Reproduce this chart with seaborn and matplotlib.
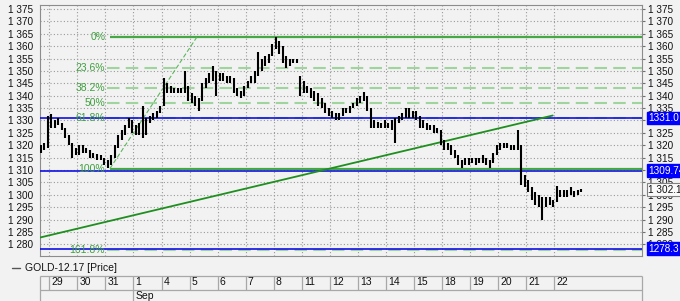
import numpy as np
import pandas as pd
import matplotlib
matplotlib.use("Agg")
import matplotlib.pyplot as plt
import matplotlib.transforms as mtransforms
from matplotlib.lines import Line2D
from matplotlib.ticker import MultipleLocator, FuncFormatter, FixedLocator
import seaborn as sns

# ---------------- data ----------------
day_labels = ["29", "30", "31", "1", "4", "5", "6", "7", "8", "11", "12",
              "13", "14", "15", "18", "19", "20", "21", "22"]
month_label = "Sep"
month_start_index = 3

bars_per_day = 8
first_bar_day = -0.3

bar_high = [
    1320, 1321, 1332, 1332.5, 1330, 1331, 1329, 1327, 1324, 1321,
    1319, 1320, 1320, 1319, 1318, 1317, 1316.5, 1316, 1315, 1314,
    1316, 1320, 1324, 1326, 1328, 1331, 1330, 1328, 1329, 1336,
    1331, 1332, 1333, 1334, 1336, 1347, 1345, 1344, 1343, 1343,
    1343, 1350, 1344, 1341, 1340, 1339, 1345, 1347, 1349, 1352,
    1350, 1349, 1349, 1348, 1348, 1347, 1343, 1342, 1344, 1346,
    1348, 1350, 1357.5, 1355, 1356, 1357, 1361, 1363.5, 1362, 1360,
    1356, 1355, 1355, 1355, 1348, 1346, 1344, 1343, 1342, 1341,
    1339, 1337, 1335, 1334, 1333, 1333, 1335, 1335, 1336, 1337,
    1339, 1340, 1341.5, 1340, 1335, 1330, 1329.5, 1329, 1330, 1329,
    1330, 1331, 1332, 1333, 1335, 1335, 1334, 1334, 1332, 1330,
    1329, 1328, 1328, 1327, 1326, 1322, 1321, 1320, 1318, 1316,
    1314, 1315, 1315, 1315, 1315, 1315, 1316, 1315, 1314, 1317,
    1320, 1321, 1321, 1321, 1320, 1320, 1326, 1320, 1308, 1306,
    1303, 1301, 1300, 1299, 1299, 1299, 1298, 1303.5, 1302, 1302,
    1302, 1303, 1301.5, 1302, 1302.5,
]
bar_low = [
    1317, 1318, 1319, 1327, 1327, 1328, 1326, 1323, 1320, 1315,
    1316, 1316, 1317, 1317, 1315, 1315, 1314, 1314, 1312, 1311,
    1312, 1315, 1319, 1322, 1324, 1327, 1325, 1324, 1324, 1323,
    1324, 1329, 1330, 1331, 1333, 1336, 1341, 1341, 1341, 1341,
    1341, 1341, 1338, 1337, 1336, 1334, 1338, 1343, 1345, 1346,
    1340, 1346, 1346, 1345, 1345, 1341, 1340, 1339, 1340, 1343,
    1345, 1345, 1348, 1350, 1352, 1353, 1356, 1359, 1357, 1353,
    1351, 1352, 1353, 1353, 1340, 1341, 1341, 1339, 1338, 1336,
    1335, 1333, 1332, 1331, 1330, 1330, 1332, 1333, 1333, 1335,
    1336, 1337, 1338, 1334, 1327, 1327, 1327, 1327, 1327, 1327,
    1326, 1321, 1329, 1330, 1331, 1331, 1331, 1330, 1327, 1327,
    1326, 1326, 1325, 1325, 1320, 1318, 1318, 1316, 1315, 1312,
    1311, 1312, 1312, 1313, 1312, 1313, 1313, 1312, 1311, 1313,
    1316, 1318, 1319, 1319, 1318, 1318, 1318, 1304, 1303, 1301,
    1298, 1296, 1295, 1290, 1295, 1296, 1295, 1297, 1299, 1299,
    1299, 1300, 1299, 1300, 1301,
]

last_price = 1302.1
last_price_label = "1 302.1"
blue_levels = [1331.0, 1309.74, 1278.3]
blue_labels = ["1331.0", "1309.74", "1278.3"]

fib_high = 1363.5
fib_low = 1310.6
fib_ratios = [0.0, 0.236, 0.382, 0.5, 0.618, 1.0, 1.618]
fib_labels = ["0%", "23.6%", "38.2%", "50%", "61.8%", "100%", "161.8%"]
fib_solid = [True, False, False, False, False, True, False]
fib_start_day = 2.16
fib_end_day = 5.25

trend_days = [-0.35, 17.94]
trend_values = [1282.7, 1332.0]

legend_text = "GOLD-12.17 [Price]"

# ---------------- style ----------------
sns.set_style("white")
plt.rcParams["font.family"] = ["Liberation Sans", "DejaVu Sans"]
plt.rcParams["font.size"] = 7.2

BG = "#f2f2f2"
GRID = "#9a9a9a"
FRAME = "#8c8c8c"
BLUE = "#1010e6"
GREEN = "#45a845"
LGREEN = "#9fd49f"
DGREEN = "#1f8f1f"
FIBTXT = "#3f9f3f"

W, H = 680, 301
fig = plt.figure(figsize=(W / 100, H / 100), dpi=100, facecolor=BG)
L, R, T, B = 39.5, 641.7, 4.5, 256.0
ax = fig.add_axes([L / W, 1 - B / H, (R - L) / W, (B - T) / H])
ax.set_facecolor(BG)

x_min, x_max = -0.349, 21.11
y_min, y_max = 1275.3, 1376.8

# price bars
n = len(bar_high)
df = pd.DataFrame({
    "day": first_bar_day + np.arange(n) / bars_per_day,
    "high": bar_high,
    "low": bar_low,
})
ax.vlines(df["day"], df["low"], df["high"], color="black", lw=1.5, zorder=4)

# fibonacci levels
fib_span = fib_high - fib_low
for r, lab, solid in zip(fib_ratios, fib_labels, fib_solid):
    lvl = fib_high - r * fib_span
    if solid:
        ax.hlines(lvl, fib_start_day, x_max, color=GREEN, lw=1.6, zorder=3.2)
    else:
        ax.hlines(lvl, fib_start_day - 0.1, x_max, color=LGREEN, lw=1.5,
                  linestyles=(0, (6, 3)), zorder=3.0)
    ax.text(fib_start_day - 0.17, lvl, lab, ha="right", va="center",
            color=FIBTXT, fontsize=7.5, zorder=3.5)

# blue horizontal levels (drawn above the dashed fib lines)
for lvl in blue_levels:
    ax.axhline(lvl, color=BLUE, lw=1.2, zorder=3.1)

# fib diagonal
diag = pd.DataFrame({"day": [fib_start_day, fib_end_day], "price": [fib_low, fib_high]})
sns.lineplot(data=diag, x="day", y="price", ax=ax, color="#5cb85c", lw=0.8,
             linestyle=(0, (4, 2)), zorder=3.3)

# trend line
trend = pd.DataFrame({"day": trend_days, "price": trend_values})
sns.lineplot(data=trend, x="day", y="price", ax=ax, color=DGREEN, lw=1.3, zorder=3.4)

ax.set_xlim(x_min, x_max)
ax.set_ylim(y_min, y_max)
ax.set_xlabel("")
ax.set_ylabel("")

ax.xaxis.set_major_locator(FixedLocator(range(len(day_labels))))
ax.yaxis.set_major_locator(MultipleLocator(5))
ax.grid(True, color=GRID, lw=0.8, ls=(0, (1, 2)))
ax.set_axisbelow(True)
ax.tick_params(axis="x", length=0, labelbottom=False)
ax.tick_params(axis="y", left=False, labelleft=True, right=True, labelright=True,
               length=2.5, pad=2, width=0.8, color="#707070", labelsize=7.2,
               labelcolor="#111111")
ax.yaxis.set_major_formatter(
    FuncFormatter(lambda v, p: f"{int(round(v)):,}".replace(",", " ")))
for s in ax.spines.values():
    s.set_color(FRAME)
    s.set_linewidth(0.8)

# right-side price boxes
btr = mtransforms.blended_transform_factory(ax.transAxes, ax.transData)
box_x = 1 + (648.0 - R) / (R - L)
for lvl, lab in zip(blue_levels, blue_labels):
    ax.text(box_x, lvl, lab, transform=btr, ha="left", va="center", color="white",
            fontsize=7.2, clip_on=False, zorder=10,
            bbox=dict(boxstyle="square,pad=0.12", fc="#0000ff", ec="#0000ff"))
ax.text(box_x, last_price, last_price_label,
        transform=btr, ha="left", va="center", color="#111111", fontsize=7.2,
        clip_on=False, zorder=10,
        bbox=dict(boxstyle="square,pad=0.12", fc="#fafafa", ec="#808080", lw=0.8))

# ---------------- date bar ----------------
bar_top = 275.7
ax2 = fig.add_axes([L / W, 0, (R - L) / W, (H - bar_top) / H])
ax2.set_xlim(x_min, x_max)
ax2.set_ylim(0, 1)
ax2.axis("off")
mid = (H - 290.0) / (H - bar_top)
lc = "#a8a8a8"
ax2.hlines([1.0, mid], x_min, x_max, color=lc, lw=0.9, clip_on=False)
ax2.vlines([x_min, x_max], 0, 1, color=lc, lw=0.9, clip_on=False)
ax2.vlines(range(len(day_labels)), mid, 1, color=lc, lw=0.9)
ax2.vlines([month_start_index], 0, mid, color=lc, lw=0.9)
for i, lab in enumerate(day_labels):
    ax2.text(i + 0.07, (1 + mid) / 2 + 0.02, lab, ha="left", va="center",
             fontsize=7.5, color="#111111")
ax2.text(month_start_index + 0.07, mid / 2 - 0.02, month_label, ha="left",
         va="center", fontsize=7.5, color="#111111")

# legend
ly = 1 - 268.3 / H
fig.add_artist(Line2D([12 / W, 20 / W], [ly, ly], color="#555555", lw=1.0))
fig.text(25 / W, ly, legend_text, ha="left", va="center", fontsize=7.5, color="#111111")

fig.savefig("out.png", dpi=100, facecolor=BG)
